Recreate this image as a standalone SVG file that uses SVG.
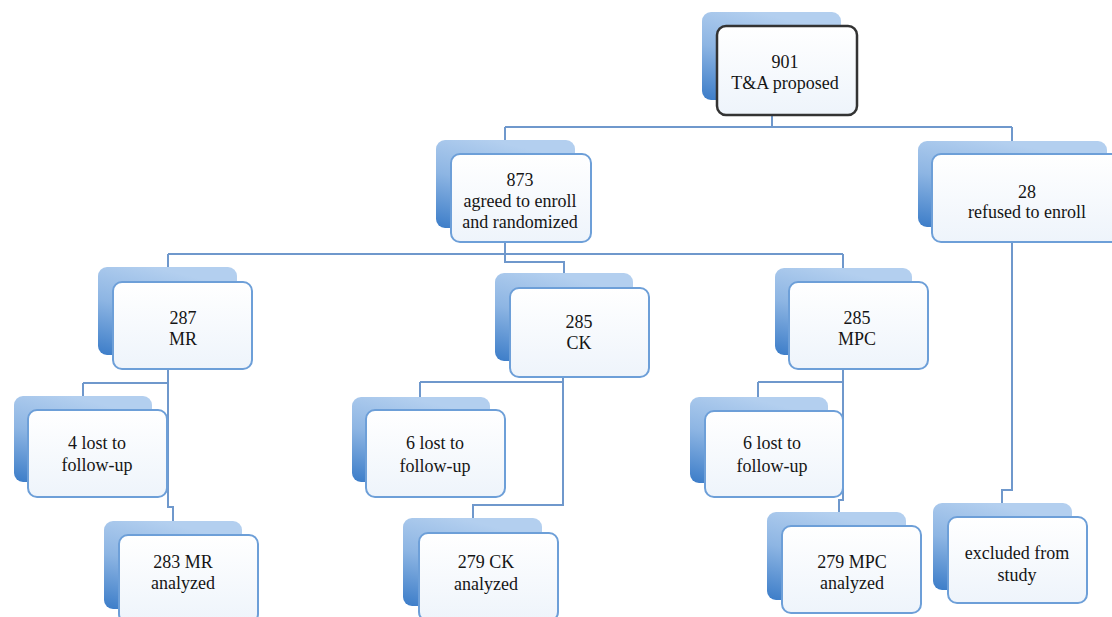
<svg xmlns="http://www.w3.org/2000/svg" width="1112" height="617" viewBox="0 0 1112 617">
<defs>
<linearGradient id="gBack" x1="0.4" y1="0" x2="0" y2="1">
<stop offset="0" stop-color="#b3cfef"/>
<stop offset="0.45" stop-color="#8db5e3"/>
<stop offset="1" stop-color="#3b7cc8"/>
</linearGradient>
<linearGradient id="gFront" x1="0" y1="0" x2="0" y2="1">
<stop offset="0" stop-color="#ffffff"/>
<stop offset="1" stop-color="#eef4fb"/>
</linearGradient>
<style>
.back{fill:url(#gBack);}
.front{fill:url(#gFront);stroke:#6d9fd8;stroke-width:2;}
.top{stroke:#333333;stroke-width:2.5;}
.conn{fill:none;stroke:#6f98cc;stroke-width:2;}
text{font-family:"Liberation Serif","Times New Roman",serif;font-size:18px;fill:#151515;text-anchor:middle;}
</style>
</defs>
<rect width="1112" height="617" fill="#ffffff"/>
<g id="connectors" class="conn">
<path d="M772,115 V127 M505,127 H1012 M505,127 V140 M1012,127 V141"/>
<path d="M505,242 V254 M168,254 H843 M168,254 V267 M505,254 V262 H564 V273 M843,254 V268"/>
<path d="M168,369 V507 H173 V521 M83,383 H168 M83,383 V396"/>
<path d="M563,377 V505 H473 V518 M420,382 H563 M420,382 V397"/>
<path d="M843,369 V500 H839 V512 M758,382 H843 M758,382 V397"/>
<path d="M1012,242 V490 H1002 V503"/>
</g>
<g id="n901">
<rect class="back" x="702" y="12" width="139" height="88" rx="9"/>
<rect class="front top" x="717" y="26" width="140" height="89" rx="9"/>
<text x="785" y="68">901</text><text x="785" y="89">T&amp;A proposed</text>
</g>
<g id="n873">
<rect class="back" x="436" y="140" width="139" height="88" rx="9"/>
<rect class="front" x="451" y="154" width="140" height="88" rx="9"/>
<text x="520" y="186">873</text><text x="520" y="207">agreed to enroll</text><text x="520" y="228">and randomized</text>
</g>
<g id="n28">
<rect class="back" x="918" y="141" width="189" height="86" rx="9"/>
<rect class="front" x="932" y="154" width="190" height="88" rx="9"/>
<text x="1027" y="198">28</text><text x="1027" y="218">refused to enroll</text>
</g>
<g id="n287">
<rect class="back" x="98" y="267" width="139" height="88" rx="9"/>
<rect class="front" x="113" y="282" width="139" height="87" rx="9"/>
<text x="183" y="324">287</text><text x="183" y="345">MR</text>
</g>
<g id="n285ck">
<rect class="back" x="495" y="273" width="138" height="88" rx="9"/>
<rect class="front" x="510" y="288" width="139" height="89" rx="9"/>
<text x="579" y="328">285</text><text x="579" y="349">CK</text>
</g>
<g id="n285mpc">
<rect class="back" x="775" y="268" width="137" height="87" rx="9"/>
<rect class="front" x="789" y="282" width="139" height="87" rx="9"/>
<text x="857" y="324">285</text><text x="857" y="345">MPC</text>
</g>
<g id="lost4">
<rect class="back" x="14" y="396" width="138" height="86" rx="9"/>
<rect class="front" x="28" y="410" width="139" height="87" rx="9"/>
<text x="97" y="449">4 lost to</text><text x="97" y="471">follow-up</text>
</g>
<g id="lost6ck">
<rect class="back" x="352" y="397" width="138" height="85" rx="9"/>
<rect class="front" x="366" y="410" width="139" height="87" rx="9"/>
<text x="435" y="449">6 lost to</text><text x="435" y="472">follow-up</text>
</g>
<g id="lost6mpc">
<rect class="back" x="690" y="397" width="138" height="86" rx="9"/>
<rect class="front" x="705" y="411" width="138" height="86" rx="9"/>
<text x="772" y="449">6 lost to</text><text x="772" y="472">follow-up</text>
</g>
<g id="a283">
<rect class="back" x="104" y="521" width="138" height="88" rx="9"/>
<rect class="front" x="119" y="535" width="139" height="88" rx="9"/>
<text x="183" y="568">283 MR</text><text x="183" y="589">analyzed</text>
</g>
<g id="a279ck">
<rect class="back" x="403" y="518" width="139" height="88" rx="9"/>
<rect class="front" x="419" y="533" width="139" height="88" rx="9"/>
<text x="486" y="568">279 CK</text><text x="486" y="590">analyzed</text>
</g>
<g id="a279mpc">
<rect class="back" x="767" y="512" width="139" height="88" rx="9"/>
<rect class="front" x="782" y="526" width="139" height="87" rx="9"/>
<text x="852" y="568">279 MPC</text><text x="852" y="589">analyzed</text>
</g>
<g id="excluded">
<rect class="back" x="933" y="503" width="139" height="87" rx="9"/>
<rect class="front" x="948" y="517" width="139" height="86" rx="9"/>
<text x="1017" y="559">excluded from</text><text x="1017" y="581">study</text>
</g>
</svg>
